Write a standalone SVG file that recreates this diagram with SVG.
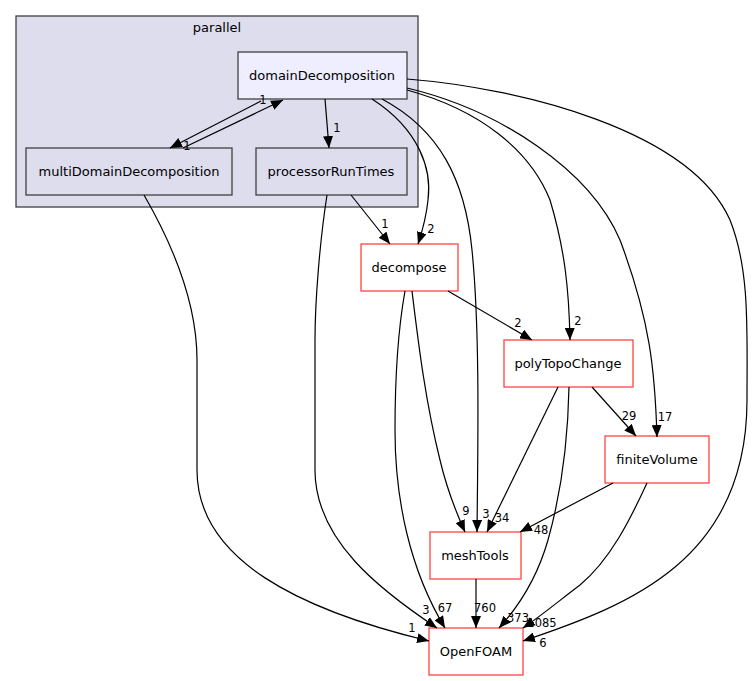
<svg xmlns="http://www.w3.org/2000/svg" width="752" height="681" viewBox="0 0 752 681">
<style>
text{font-family:"DejaVu Sans","Liberation Sans",sans-serif;font-size:13px;fill:#000}
.c{text-anchor:middle}
.n rect{stroke:#404040;stroke-width:1.3}
.r rect{fill:#fff;stroke:#ff4444;stroke-width:1.3}
.e path{fill:none;stroke:#000;stroke-width:1.2;marker-end:url(#a)}
.lbl text{text-anchor:middle;font-size:11.5px}
</style>
<defs>
<marker id="a" viewBox="0 0 12 10" refX="12" refY="5" markerWidth="12" markerHeight="10" markerUnits="userSpaceOnUse" orient="auto">
<path d="M0,0 L12,5 L0,10 z" fill="#000"/>
</marker>
</defs>
<rect width="752" height="681" fill="#fff"/>
<g id="cluster_parallel">
<rect x="16" y="16" width="402" height="191" fill="#ddddee" stroke="#404040" stroke-width="1.3"/>
<text class="c" x="217" y="32">parallel</text>
</g>
<g id="node_domainDecomposition" class="n">
<rect x="238" y="52" width="169" height="47" fill="#eeeeff"/>
<text class="c" x="322" y="80">domainDecomposition</text>
</g>
<g id="node_multiDomainDecomposition" class="n">
<rect x="26" y="148" width="206" height="47" fill="#ddddee"/>
<text class="c" x="129" y="176">multiDomainDecomposition</text>
</g>
<g id="node_processorRunTimes" class="n">
<rect x="256" y="148" width="151" height="47" fill="#ddddee"/>
<text class="c" x="331" y="176">processorRunTimes</text>
</g>
<g id="node_decompose" class="r">
<rect x="361" y="244" width="97" height="47"/>
<text class="c" x="409" y="272">decompose</text>
</g>
<g id="node_polyTopoChange" class="r">
<rect x="504" y="340" width="129" height="47"/>
<text class="c" x="568" y="368">polyTopoChange</text>
</g>
<g id="node_finiteVolume" class="r">
<rect x="605" y="436" width="104" height="47"/>
<text class="c" x="657" y="464">finiteVolume</text>
</g>
<g id="node_meshTools" class="r">
<rect x="430" y="532" width="91" height="47"/>
<text class="c" x="475" y="560">meshTools</text>
</g>
<g id="node_OpenFOAM" class="r">
<rect x="429" y="628" width="94" height="47"/>
<text class="c" x="476" y="656">OpenFOAM</text>
</g>
<g id="connectors" class="e">
<path d="M261,101 L170,148"/>
<path d="M183,148 L283,100"/>
<path d="M325,99 L329,148"/>
<path d="M351,195 L390,244"/>
<path d="M372,99 C420,130 432,170 428,200 C426,220 422,232 418,244"/>
<path d="M407,90 C480,110 530,150 550,200 C565,250 569,290 570,340"/>
<path d="M407,88 C500,110 590,170 620,240 C650,320 655,370 657,437"/>
<path d="M382,99 C440,130 465,180 472,250 C480,330 478,440 477,532"/>
<path d="M407,79 C520,88 690,130 730,220 C750,270 747,330 747,400 C747,560 630,605 523,641"/>
<path d="M144,195 C170,240 197,300 197,360 L197,470 C197,560 300,610 429,641"/>
<path d="M327,195 C320,240 315,300 315,340 L315,470 C315,540 380,590 437,628"/>
<path d="M448,291 L532,340"/>
<path d="M412,291 C418,340 425,400 440,460 C447,490 456,512 465,532"/>
<path d="M405,291 C398,330 395,380 395,430 C395,500 410,570 445,628"/>
<path d="M558,387 L487,532"/>
<path d="M569,387 C568,440 562,490 548,540 C538,575 520,605 499,628"/>
<path d="M592,387 L636,436"/>
<path d="M613,483 L520,532"/>
<path d="M647,483 C630,520 610,560 580,585 C560,600 545,613 523,628"/>
<path d="M476,579 L476,628"/>
</g>
<g id="labels" class="lbl">
<text x="187" y="150">1</text>
<text x="263" y="104">1</text>
<text x="337" y="132">1</text>
<text x="385" y="228">1</text>
<text x="431" y="233">2</text>
<text x="578" y="325">2</text>
<text x="665" y="421">17</text>
<text x="486" y="518">3</text>
<text x="543" y="647">6</text>
<text x="412" y="632">1</text>
<text x="426" y="614">3</text>
<text x="518" y="327">2</text>
<text x="466" y="515">9</text>
<text x="445" y="612">67</text>
<text x="502" y="522">34</text>
<text x="518" y="622">373</text>
<text x="629" y="420">29</text>
<text x="541" y="534">48</text>
<text x="542" y="627">1085</text>
<text x="485" y="612">760</text>
</g>
</svg>
